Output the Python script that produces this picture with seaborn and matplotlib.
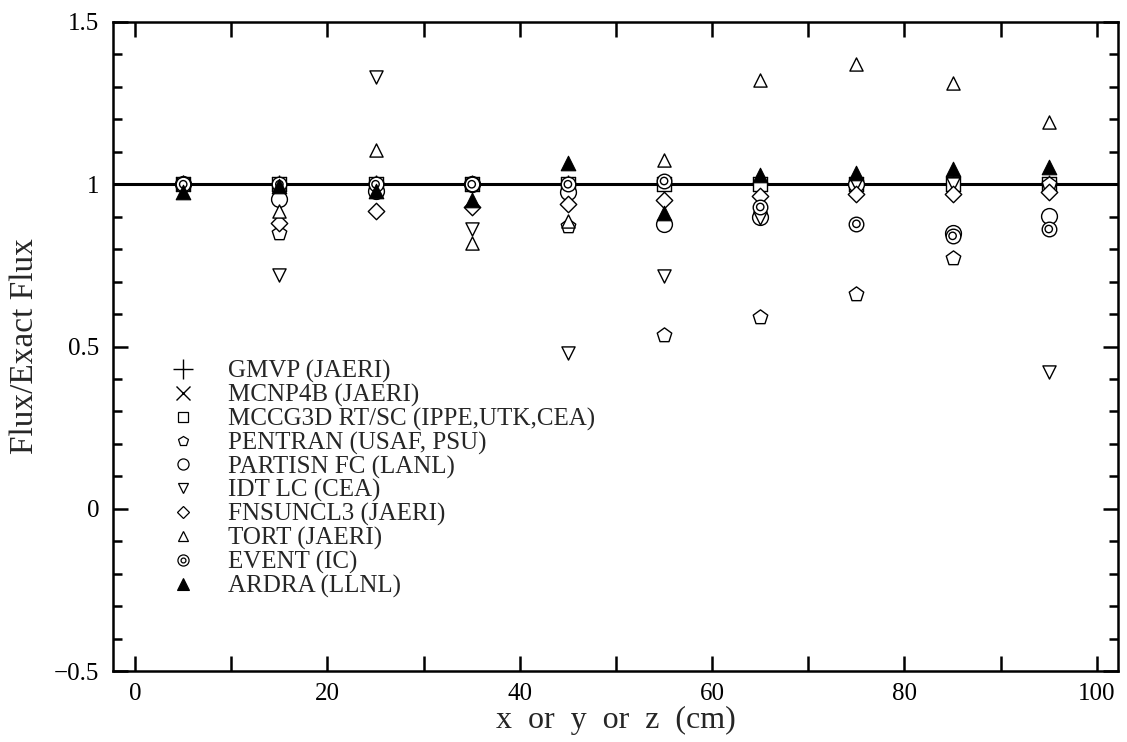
import matplotlib
matplotlib.use("Agg")
import matplotlib.pyplot as plt
from matplotlib.lines import Line2D
from matplotlib.ticker import MultipleLocator, FuncFormatter
import pandas as pd
import seaborn as sns

# Positions along the line (cm)
positions = [5, 15, 25, 35, 45, 55, 65, 75, 85, 95]

# Flux / exact flux for each code
gmvp     = [1.000, 1.000, 1.000, 1.000, 1.000, 1.000, 1.000, 1.000, 1.000, 1.000]
mcnp4b   = [1.000, 1.000, 1.000, 1.000, 1.000, 1.000, 1.000, 1.000, 1.000, 1.000]
mccg3d   = [1.000, 1.000, 1.000, 1.000, 1.000, 1.000, 1.000, 1.000, 1.000, 1.000]
pentran  = [1.000, 0.850, 1.000, 1.000, 0.870, 0.536, 0.590, 0.662, 0.773, 1.000]
partisn  = [1.000, 0.955, 0.980, 1.000, 0.975, 0.878, 0.900, 1.000, 0.850, 0.903]
idt      = [1.000, 0.720, 1.330, 0.863, 0.480, 0.718, 0.897, 1.000, 1.000, 0.420]
fnsuncl3 = [1.000, 0.880, 0.918, 0.930, 0.940, 0.952, 0.965, 0.970, 0.970, 0.975]
tort     = [1.000, 0.918, 1.105, 0.820, 0.887, 1.075, 1.322, 1.371, 1.313, 1.193]
event    = [1.000, 1.000, 1.000, 1.000, 1.000, 1.010, 0.930, 0.878, 0.841, 0.862]
ardra    = [0.975, 0.995, 0.980, 0.950, 1.067, 0.910, 1.030, 1.035, 1.048, 1.054]

labels = [
    "GMVP (JAERI)",
    "MCNP4B (JAERI)",
    "MCCG3D RT/SC (IPPE,UTK,CEA)",
    "PENTRAN (USAF, PSU)",
    "PARTISN FC (LANL)",
    "IDT LC (CEA)",
    "FNSUNCL3 (JAERI)",
    "TORT (JAERI)",
    "EVENT (IC)",
    "ARDRA (LLNL)",
]
series = [gmvp, mcnp4b, mccg3d, pentran, partisn, idt, fnsuncl3, tort, event, ardra]

# marker, size (pt^2) on the plot, legend marker size (pt), filled
styles = [
    ("+", 150, 15, False),
    ("x", 110, 10, False),
    ("s", 110, 7, False),
    ("p", 120, 7.5, False),
    ("o", 130, 8, False),
    ("v", 90, 7, False),
    ("D", 70, 6.5, False),
    ("^", 90, 7, False),
    ("o", 110, 8, False),   # outer ring of EVENT
    ("^", 110, 8, True),
]

sns.set_theme(style="ticks")
plt.rcParams["font.family"] = ["Liberation Serif", "DejaVu Serif"]

fig = plt.figure(figsize=(11.27, 7.42), dpi=100)
ax = fig.add_axes([113 / 1127, 1 - 671 / 742, (1118 - 113) / 1127, (671 - 22) / 742])

ax.axhline(1.0, color="black", lw=2.2, zorder=1)

handles = []
for lab, vals, (mk, sz, lsz, filled) in zip(labels, series, styles):
    df = pd.DataFrame({"pos": positions, "ratio": vals})
    if mk in ("+", "x"):
        sns.scatterplot(data=df, x="pos", y="ratio", marker=mk, s=sz,
                        color="black", linewidth=1.0, ax=ax, zorder=3)
        h = Line2D([], [], ls="none", marker=mk, color="black",
                   markersize=lsz, markeredgewidth=1.0)
    elif filled:
        sns.scatterplot(data=df, x="pos", y="ratio", marker=mk, s=sz,
                        color="black", edgecolor="black", linewidth=0.8,
                        ax=ax, zorder=4)
        h = Line2D([], [], ls="none", marker=mk, color="black",
                   markersize=lsz, markeredgewidth=0.8)
    else:
        sns.scatterplot(data=df, x="pos", y="ratio", marker=mk, s=sz,
                        facecolor="white", edgecolor="black", linewidth=1.0,
                        ax=ax, zorder=3)
        h = Line2D([], [], ls="none", marker=mk, markerfacecolor="white",
                   markeredgecolor="black", markersize=lsz, markeredgewidth=0.9)
    if lab.startswith("EVENT"):
        # inner ring of the double circle
        sns.scatterplot(data=df, x="pos", y="ratio", marker="o", s=28,
                        facecolor="none", edgecolor="black", linewidth=1.0,
                        ax=ax, zorder=3)
        inner = Line2D([], [], ls="none", marker="o", markerfacecolor="none",
                       markeredgecolor="black", markersize=3.5, markeredgewidth=0.9)
        h = (h, inner)
    handles.append(h)

ax.set_xlim(-2.3, 102.2)
ax.set_ylim(-0.5, 1.5)
ax.xaxis.set_major_locator(MultipleLocator(20))
ax.xaxis.set_minor_locator(MultipleLocator(10))
ax.yaxis.set_major_locator(MultipleLocator(0.5))
ax.yaxis.set_minor_locator(MultipleLocator(0.1))
ax.yaxis.set_major_formatter(FuncFormatter(
    lambda v, p: f"{v:g}".replace("-", "\u2212")))

ax.tick_params(which="both", direction="in", top=True, right=True,
               colors="black", labelsize=18, width=1.8)
ax.tick_params(axis="x", which="both", length=11, pad=9)
ax.tick_params(axis="y", which="major", length=11, pad=10)
ax.tick_params(axis="y", which="minor", length=6.5)
for sp in ax.spines.values():
    sp.set_linewidth(1.8)
    sp.set_color("black")

ax.set_xlabel("x  or  y  or  z  (cm)", fontsize=23, labelpad=0)
ax.set_ylabel("Flux/Exact Flux", fontsize=24, labelpad=10)

ax.legend(handles, labels, loc="upper left", bbox_to_anchor=(0.0448, 0.479),
          frameon=False, fontsize=18, borderpad=0, borderaxespad=0,
          handlelength=2.0, handletextpad=0.8, labelspacing=0.03)

fig.savefig("out.png", dpi=100)
